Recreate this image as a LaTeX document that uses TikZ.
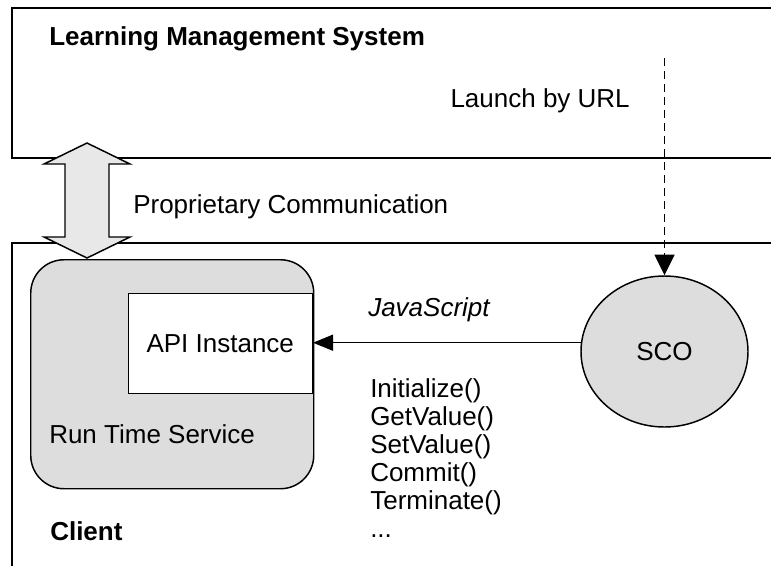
\documentclass[tikz,border=0pt]{standalone}
\usepackage{fontspec}
\setmainfont{Liberation Sans}
\usetikzlibrary{arrows.meta,shapes.geometric}
\definecolor{boxgray}{RGB}{221,221,221}
\definecolor{arrgray}{RGB}{232,232,232}
\begin{document}
\begin{tikzpicture}[x=0.75pt,y=-0.75pt,
  frame/.style={line width=1.5pt, line cap=rect},
  txt/.style={font=\fontsize{19.5}{22.1}\selectfont, inner sep=0pt},
  tip/.style={-{Triangle[length=15pt,width=12pt]}},
  dtip/.style={-{Triangle[length=15.5pt,width=15pt]}},
  shape1/.style={draw, line width=1.1pt}]
\useasboundingbox (0,0) rectangle (771,565);
% frames
\draw[frame] (790,8) -- (12,8) -- (12,158) -- (790,158);
\draw[frame] (790,243) -- (12,243) -- (12,580);
% text labels
\node[txt, anchor=base west, font=\fontsize{19.5}{22.1}\selectfont\bfseries] (lms) at (49,45) {Learning Management System};
\node[txt, anchor=base east] (launch) at (630,107) {Launch by URL};
\node[txt, anchor=base west] (prop) at (133,213) {Proprietary Communication};
% run time service
\node[shape1, fill=boxgray, rectangle, rounded corners=25pt, minimum width=212.25pt, minimum height=171.75pt, anchor=north west] (rts) at (30,259) {};
\node[shape1, fill=white, rectangle, minimum width=138pt, minimum height=75pt, anchor=north east, txt] (api) at (313,293) {API Instance};
\node[txt, anchor=base west] (rtslbl) at (49,443) {Run Time Service};
\node[txt, anchor=base west, font=\fontsize{19.5}{22.1}\selectfont\bfseries] (client) at (50,540) {Client};
% SCO
\node[shape1, fill=boxgray, ellipse, minimum width=125.25pt, minimum height=113.25pt, inner sep=0pt, txt] (sco) at (664.5,351.5) {SCO};
% launch arrow
\coordinate (lstart) at (664.5,58);
\draw[line width=1.1pt, dash pattern=on 6pt off 3.75pt, dtip] (lstart) -- (sco.north);
% javascript arrow
\draw[line width=1.1pt, tip] (sco.174) -- (sco.174 -| api.east);
\node[txt, anchor=base west, font=\fontsize{19.5}{22.1}\selectfont\itshape] (js) at (368,316) {JavaScript};
\node[txt, anchor=north west, align=left, font=\fontsize{19.5}{21}\selectfont] (calls) at (370,378) {Initialize()\\GetValue()\\SetValue()\\Commit()\\Terminate()\\...};
% double arrow
\draw[shape1, fill=arrgray, line join=miter] (87,143) -- (130,164) -- (109,164) -- (109,237) -- (130,237) -- (87,258) -- (44,237) -- (65,237) -- (65,164) -- (44,164) -- cycle;
\end{tikzpicture}
\end{document}
